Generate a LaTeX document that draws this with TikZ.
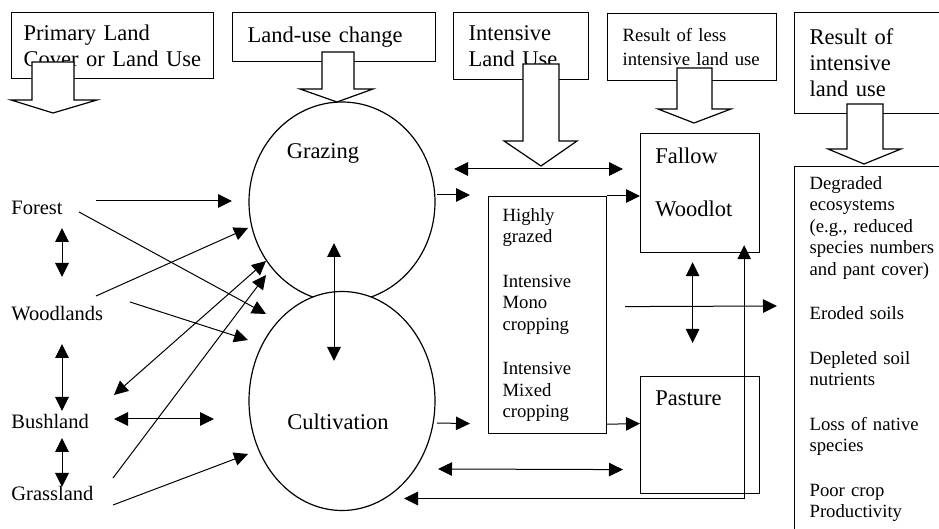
\documentclass[tikz,border=0pt]{standalone}
\usepackage{fontspec}
\setmainfont{Liberation Serif}
\newcommand{\txtbig}{\fontsize{11.25}{13}\selectfont}
\newcommand{\txtmid}{\fontsize{10.25}{12}\selectfont}
\newcommand{\txtsmall}{\fontsize{9.35}{10.75}\selectfont}
\usetikzlibrary{arrows.meta, calc, shapes.geometric}

\begin{document}
\begin{tikzpicture}[x=0.5pt, y=-0.5pt,
    hdrbox/.style={draw, line width=0.6pt, anchor=north west, align=left,
       inner xsep=7.5pt, inner ysep=0pt, font=\txtbig},
    plainbox/.style={draw, line width=0.6pt, anchor=north west, inner sep=0pt},
    inlbl/.style={anchor=north west, inner sep=0pt, xshift=7.5pt, yshift=-7pt,
       align=left, font=\txtbig},
    landlbl/.style={anchor=west, inner sep=0pt, font=\txtmid},
    bubble/.style={ellipse, draw, line width=0.6pt, inner sep=0pt, outer sep=0pt},
    circlbl/.style={anchor=center, inner sep=0pt, font=\txtbig},
    blockarr/.style={draw, fill=white, line width=0.6pt},
    arr/.style={-{Triangle[length=7pt, width=6.75pt]}, line width=0.5pt},
    darr/.style={{Triangle[length=7pt, width=6.75pt]}-{Triangle[length=7pt, width=6.75pt]}, line width=0.5pt}]
  \useasboundingbox (0,0) rectangle (939,529);
  \clip (0,0) rectangle (939,529);

  % Headings
  \node[hdrbox, text width=89pt, inner xsep=6pt, minimum height=33pt] (primary) at (11,12) {Primary Land\\Cover or Land Use};
  \node[hdrbox, text width=86.5pt, minimum height=24.5pt] (change) at (232,12) {Land-use change};
  \node[hdrbox, text width=52.5pt, minimum height=33.5pt] (intensive) at (453,12) {Intensive\\Land Use};
  \node[hdrbox, text width=69.5pt, minimum height=33.5pt, font=\fontsize{9.35}{12}\selectfont] (lessres) at (607,13) {Result of less\\intensive land use};
  \node[hdrbox, text width=70pt, minimum height=50.5pt] (intres) at (794,12) {Result of\\intensive\\land use};

  % Block arrows below the headings
  \draw[blockarr] (32,62) -- (74,62) -- (74,100) -- (97,100) -- (53,113) -- (11,100) -- (32,100) -- cycle;
  \draw[blockarr] (322,52) -- (354,52) -- (354,89) -- (373,89) -- (337,102) -- (300,89) -- (322,89) -- cycle;
  \draw[blockarr] (523,64) -- (559,64) -- (559,141) -- (577,141) -- (541,166) -- (504,141) -- (523,141) -- cycle;
  \draw[blockarr] (677,68) -- (712,68) -- (712,109) -- (731,109) -- (694,123) -- (658,109) -- (677,109) -- cycle;
  \draw[blockarr] (847,104) -- (883,104) -- (883,149) -- (901,149) -- (864,164) -- (828,149) -- (847,149) -- cycle;

  % Land covers
  \node[landlbl] (forest) at (11,208) {Forest};
  \node[landlbl] (woodlands) at (11,314) {Woodlands};
  \node[landlbl] (bushland) at (11,421) {Bushland};
  \node[landlbl] (grassland) at (11,493) {Grassland};

  % Land-use change
  \node[bubble, minimum width=93pt, minimum height=100pt,
     label={[circlbl, xshift=-9.5pt, yshift=24.5pt]center:Grazing}] (grazing) at (342,202) {};
  \node[bubble, fill=white, minimum width=93pt, minimum height=109.5pt,
     label={[circlbl, xshift=-2pt, yshift=-10.5pt]center:Cultivation}] (cultiv) at (342,401) {};

  % Intensive use and results
  \node[plainbox, text width=45pt, inner xsep=7pt, minimum height=118.5pt, align=left, font=\txtsmall] (intens) at (488,196)
     {Highly\\grazed\\[11.5pt]Intensive\\Mono\\cropping\\[11.5pt]Intensive\\Mixed\\cropping};
  \node[plainbox, minimum width=59.5pt, minimum height=59.5pt,
     label={[inlbl]north west:{Fallow\\[13.5pt]Woodlot}}] (fallow) at (640,133) {};
  \node[plainbox, minimum width=59.5pt, minimum height=58.5pt,
     label={[inlbl]north west:Pasture}] (pasture) at (640,376) {};
  \node[plainbox, text width=70pt, inner xsep=7.5pt, minimum height=182.5pt, align=left, font=\txtsmall] (effects) at (794,166)
     {Degraded\\ecosystems\\(e.g., reduced\\species numbers\\and pant cover)\\[11.5pt]Eroded soils\\[11.5pt]Depleted soil\\nutrients\\[11.5pt]Loss of native\\species\\[11.5pt]Poor crop\\Productivity};

  % Land covers to land-use change
  \draw[arr] ($(forest.west)+(85,-7)$) -- ($(grazing.west)+(-17,-1)$);
  \draw[arr] ($(forest.west)+(68,4)$) -- ($(cultiv.center)+(-76,-87)$);
  \draw[arr] ($(woodlands.west)+(85,-18)$) -- ($(grazing.center)+(-94,26)$);
  \draw[arr] ($(woodlands.west)+(119,-12)$) -- ($(cultiv.center)+(-94,-61)$);
  \draw[darr] ($(bushland.west)+(103,-26)$) -- ($(grazing.center)+(-76,59)$);
  \draw[arr] ($(grassland.west)+(102,-15)$) -- ($(grazing.center)+(-76,73)$);
  \draw[darr] ($(bushland.west)+(103,-2)$) -- ($(cultiv.center)+(-128,18)$);
  \draw[arr] ($(grassland.west)+(102,12)$) -- ($(cultiv.center)+(-94,53)$);
  \draw[darr] ($(grazing.center)+(-8,41)$) -- ($(cultiv.center)+(-8,-40)$);
  \draw[darr] ($(forest.west)+(51,20)$) -- ($(woodlands.west)+(51,-37)$);
  \draw[darr] ($(woodlands.west)+(51,30)$) -- ($(bushland.west)+(51,-10)$);
  \draw[darr] ($(bushland.west)+(51,17)$) -- ($(grassland.west)+(51,-6)$);

  % Towards intensive use and results
  \draw[darr] ($(grazing.east)+(19,-33)$) -- ($(fallow.north west)+(-17,36)$);
  \draw[arr] ($(grazing.east)+(2,-7)$) -- ($(intens.north west)+(-18,-1)$);
  \draw[arr] (intens.north east) -- (intens.north east -| fallow.west);
  \draw[arr] ($(cultiv.east)+(2,22)$) -- ($(intens.west)+(-18,108.5)$);
  \draw[arr] ($(intens.south east)+(0,-10)$) -- ($(pasture.west)+(0,-11.5)$);
  \draw[darr] ($(cultiv.east)+(3,68)$) -- ($(pasture.west)+(-17,34.5)$);
  \draw[darr] ($(cultiv.south)+(62,-12)$) -| ($(fallow.south east)+(-16,-8)$);
  \draw[darr] ($(fallow.south)+(-7.5,9)$) -- ($(pasture.north)+(-7.5,-33)$);
  \draw[arr] ($(intens.east)+(18,-8.5)$) -- ($(effects.north west)+(-17,140)$);
\end{tikzpicture}
\end{document}
